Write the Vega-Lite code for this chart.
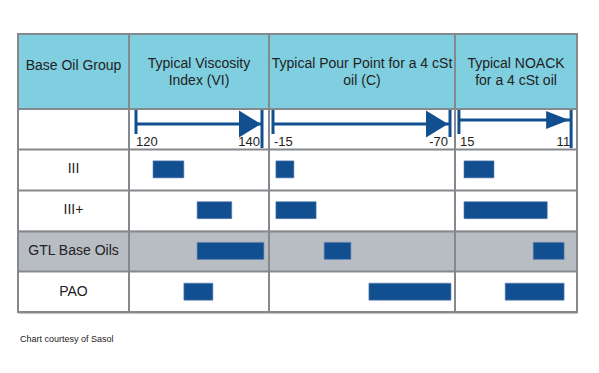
{
  "$schema": "https://vega.github.io/schema/vega-lite/v6.json",
  "padding": {"left": 17, "top": 33, "right": 0, "bottom": 0},
  "background": "white",
  "spacing": 0,
  "bounds": "flush",
  "config": {
    "font": "Liberation Sans",
    "view": {"stroke": null},
    "concat": {"spacing": 0},
    "text": {"font": "Liberation Sans", "color": "#222222"}
  },
  "title": {"text": "Chart courtesy of Sasol", "orient": "bottom", "anchor": "start", "fontSize": 9, "fontWeight": "normal", "color": "#222222", "font": "Liberation Sans", "offset": 22, "dx": 3},
  "datasets": {
    "headers": [
      {"column": "group", "title": ["Base Oil Group"]},
      {"column": "VI", "title": ["Typical Viscosity", "Index (VI)"]},
      {"column": "Pour", "title": ["Typical Pour Point for a 4 cSt", "oil (C)"]},
      {"column": "NOACK", "title": ["Typical NOACK", "for a 4 cSt oil"]}
    ],
    "scales": [
      {"property": "VI", "start": 120, "end": 140},
      {"property": "Pour", "start": -15, "end": -70},
      {"property": "NOACK", "start": 15, "end": 11}
    ],
    "groups": [
      {"group": "III"}, {"group": "III+"}, {"group": "GTL Base Oils"}, {"group": "PAO"}
    ],
    "ranges": [
      {"group": "III", "property": "VI", "low": 122.7, "high": 127.6},
      {"group": "III+", "property": "VI", "low": 129.7, "high": 135.2},
      {"group": "GTL Base Oils", "property": "VI", "low": 129.7, "high": 140.3},
      {"group": "PAO", "property": "VI", "low": 127.6, "high": 132.2},
      {"group": "III", "property": "Pour", "low": -15.9, "high": -21.5},
      {"group": "III+", "property": "Pour", "low": -15.9, "high": -28.4},
      {"group": "GTL Base Oils", "property": "Pour", "low": -30.9, "high": -39.2},
      {"group": "PAO", "property": "Pour", "low": -44.8, "high": -70.3},
      {"group": "III", "property": "NOACK", "low": 14.82, "high": 13.75},
      {"group": "III+", "property": "NOACK", "low": 14.82, "high": 11.85},
      {"group": "GTL Base Oils", "property": "NOACK", "low": 12.35, "high": 11.25},
      {"group": "PAO", "property": "NOACK", "low": 13.35, "high": 11.25}
    ]
  },
  "hconcat": [
    {
      "width": 111, "height": 278,
      "resolve": {"scale": {"y": "independent"}},
      "layer": [
        {"data": {"name": "headers"}, "transform": [{"filter": "datum.column === 'group'"}],
         "mark": {"type": "rect", "color": "#7fcfe0"},
         "encoding": {"y": {"datum": 0, "type": "quantitative", "scale": {"domain": [0, 278], "reverse": true, "nice": false, "zero": false}, "axis": null}, "y2": {"datum": 75}}},
        {"data": {"name": "headers"}, "transform": [{"filter": "datum.column === 'group'"}],
         "mark": {"type": "text", "fontSize": 14, "lineHeight": 17, "baseline": "middle", "dy": -5.5},
         "encoding": {"y": {"datum": 37.5, "type": "quantitative", "scale": {"domain": [0, 278], "reverse": true, "nice": false, "zero": false}, "axis": null}, "text": {"field": "title"}}},
        {"data": {"name": "groups"}, "transform": [{"filter": "datum.group === 'GTL Base Oils'"}],
         "mark": {"type": "rect", "color": "#b8bcc3"},
         "encoding": {"y": {"field": "group", "type": "nominal", "scale": {"domain": ["III", "III+", "GTL Base Oils", "PAO"], "range": [115, 278], "paddingInner": 0, "paddingOuter": 0}, "axis": null}}},
        {"data": {"name": "groups"},
         "mark": {"type": "text", "fontSize": 14, "baseline": "middle"},
         "encoding": {"y": {"field": "group", "type": "nominal", "scale": {"domain": ["III", "III+", "GTL Base Oils", "PAO"], "range": [115, 278], "paddingInner": 0, "paddingOuter": 0},
           "axis": {"title": null, "labels": false, "ticks": false, "domain": false, "grid": true, "gridColor": "#85888c", "gridWidth": 2, "tickBand": "extent", "zindex": 1, "minExtent": 0, "maxExtent": 0}},
           "text": {"field": "group"}}},
        {"data": {"name": "headers"}, "transform": [{"filter": "datum.column === 'group'"}],
         "mark": {"type": "rule", "color": "#85888c", "strokeWidth": 2},
         "encoding": {"y": {"datum": 75, "type": "quantitative", "scale": {"domain": [0, 278], "reverse": true, "nice": false, "zero": false}, "axis": null}}},
        {"data": {"name": "headers"}, "transform": [{"filter": "datum.column === 'group'"}],
         "mark": {"type": "rect", "filled": false, "stroke": "#85888c", "strokeWidth": 2},
         "encoding": {}}
      ]
    },
    {
      "width": 140, "height": 278,
      "resolve": {"scale": {"y": "independent"}},
      "layer": [
        {"data": {"name": "headers"}, "transform": [{"filter": "datum.column === 'VI'"}],
         "mark": {"type": "rect", "color": "#7fcfe0"},
         "encoding": {"y": {"datum": 0, "type": "quantitative", "scale": {"domain": [0, 278], "reverse": true, "nice": false, "zero": false}, "axis": null}, "y2": {"datum": 75}}},
        {"data": {"name": "headers"}, "transform": [{"filter": "datum.column === 'VI'"}],
         "mark": {"type": "text", "fontSize": 14, "lineHeight": 17, "baseline": "middle", "dy": -7.5},
         "encoding": {"y": {"datum": 37.5, "type": "quantitative", "scale": {"domain": [0, 278], "reverse": true, "nice": false, "zero": false}, "axis": null}, "text": {"field": "title"}}},
        {"data": {"name": "groups"}, "transform": [{"filter": "datum.group === 'GTL Base Oils'"}],
         "mark": {"type": "rect", "color": "#b8bcc3"},
         "encoding": {"y": {"field": "group", "type": "nominal", "scale": {"domain": ["III", "III+", "GTL Base Oils", "PAO"], "range": [115, 278], "paddingInner": 0, "paddingOuter": 0}, "axis": null}}},
        {"data": {"name": "ranges"}, "transform": [{"filter": "datum.property === 'VI'"}],
         "mark": {"type": "bar", "color": "#124f90", "size": 17, "stroke": "#5f7fb5", "strokeWidth": 0.6},
         "encoding": {"y": {"field": "group", "type": "nominal", "scale": {"domain": ["III", "III+", "GTL Base Oils", "PAO"], "range": [115, 278], "paddingInner": 0, "paddingOuter": 0},
           "axis": {"title": null, "labels": false, "ticks": false, "domain": false, "grid": true, "gridColor": "#85888c", "gridWidth": 2, "tickBand": "extent", "zindex": 1, "minExtent": 0, "maxExtent": 0}},
           "x": {"field": "low", "type": "quantitative", "scale": {"domain": [118.89, 141.11], "nice": false, "zero": false}, "axis": null}, "x2": {"field": "high"}}},
        {"data": {"name": "scales"}, "transform": [{"filter": "datum.property === 'VI'"}],
         "mark": {"type": "rule", "color": "#124f90", "strokeWidth": 3},
         "encoding": {"x": {"field": "start", "type": "quantitative"}, "x2": {"field": "end"}, "y": {"datum": 90, "type": "quantitative", "scale": {"domain": [0, 278], "reverse": true, "nice": false, "zero": false}, "axis": null}}},
        {"data": {"name": "scales"}, "transform": [{"filter": "datum.property === 'VI'"}],
         "mark": {"type": "rule", "color": "#124f90", "strokeWidth": 3},
         "encoding": {"x": {"field": "start", "type": "quantitative"}, "y": {"datum": 76, "type": "quantitative", "scale": {"domain": [0, 278], "reverse": true, "nice": false, "zero": false}, "axis": null}, "y2": {"datum": 100}}},
        {"data": {"name": "scales"}, "transform": [{"filter": "datum.property === 'VI'"}],
         "mark": {"type": "rule", "color": "#124f90", "strokeWidth": 3},
         "encoding": {"x": {"field": "end", "type": "quantitative"}, "y": {"datum": 76, "type": "quantitative", "scale": {"domain": [0, 278], "reverse": true, "nice": false, "zero": false}, "axis": null}, "y2": {"datum": 114}}},
        {"data": {"name": "scales"}, "transform": [{"filter": "datum.property === 'VI'"}],
         "mark": {"type": "point", "shape": "M-1,-1.23L1,0L-1,1.23Z", "size": 484, "filled": true, "opacity": 1, "color": "#124f90", "strokeWidth": 0, "xOffset": -12},
         "encoding": {"x": {"field": "end", "type": "quantitative"}, "y": {"datum": 90, "type": "quantitative", "scale": {"domain": [0, 278], "reverse": true, "nice": false, "zero": false}, "axis": null}}},
        {"data": {"name": "scales"}, "transform": [{"filter": "datum.property === 'VI'"}],
         "mark": {"type": "text", "fontSize": 13, "align": "left", "baseline": "middle", "dx": 0},
         "encoding": {"x": {"field": "start", "type": "quantitative"}, "text": {"field": "start"}, "y": {"datum": 108, "type": "quantitative", "scale": {"domain": [0, 278], "reverse": true, "nice": false, "zero": false}, "axis": null}}},
        {"data": {"name": "scales"}, "transform": [{"filter": "datum.property === 'VI'"}],
         "mark": {"type": "text", "fontSize": 13, "align": "right", "baseline": "middle", "dx": -2},
         "encoding": {"x": {"field": "end", "type": "quantitative"}, "text": {"field": "end"}, "y": {"datum": 108, "type": "quantitative", "scale": {"domain": [0, 278], "reverse": true, "nice": false, "zero": false}, "axis": null}}},
        {"data": {"name": "headers"}, "transform": [{"filter": "datum.column === 'VI'"}],
         "mark": {"type": "rule", "color": "#85888c", "strokeWidth": 2},
         "encoding": {"y": {"datum": 75, "type": "quantitative", "scale": {"domain": [0, 278], "reverse": true, "nice": false, "zero": false}, "axis": null}}},
        {"data": {"name": "headers"}, "transform": [{"filter": "datum.column === 'VI'"}],
         "mark": {"type": "rect", "filled": false, "stroke": "#85888c", "strokeWidth": 2},
         "encoding": {}}
      ]
    },
    {
      "width": 186, "height": 278,
      "resolve": {"scale": {"y": "independent"}},
      "layer": [
        {"data": {"name": "headers"}, "transform": [{"filter": "datum.column === 'Pour'"}],
         "mark": {"type": "rect", "color": "#7fcfe0"},
         "encoding": {"y": {"datum": 0, "type": "quantitative", "scale": {"domain": [0, 278], "reverse": true, "nice": false, "zero": false}, "axis": null}, "y2": {"datum": 75}}},
        {"data": {"name": "headers"}, "transform": [{"filter": "datum.column === 'Pour'"}],
         "mark": {"type": "text", "fontSize": 14, "lineHeight": 17, "baseline": "middle", "dy": -7.5},
         "encoding": {"y": {"datum": 37.5, "type": "quantitative", "scale": {"domain": [0, 278], "reverse": true, "nice": false, "zero": false}, "axis": null}, "text": {"field": "title"}}},
        {"data": {"name": "groups"}, "transform": [{"filter": "datum.group === 'GTL Base Oils'"}],
         "mark": {"type": "rect", "color": "#b8bcc3"},
         "encoding": {"y": {"field": "group", "type": "nominal", "scale": {"domain": ["III", "III+", "GTL Base Oils", "PAO"], "range": [115, 278], "paddingInner": 0, "paddingOuter": 0}, "axis": null}}},
        {"data": {"name": "ranges"}, "transform": [{"filter": "datum.property === 'Pour'"}],
         "mark": {"type": "bar", "color": "#124f90", "size": 17, "stroke": "#5f7fb5", "strokeWidth": 0.6},
         "encoding": {"y": {"field": "group", "type": "nominal", "scale": {"domain": ["III", "III+", "GTL Base Oils", "PAO"], "range": [115, 278], "paddingInner": 0, "paddingOuter": 0},
           "axis": {"title": null, "labels": false, "ticks": false, "domain": false, "grid": true, "gridColor": "#85888c", "gridWidth": 2, "tickBand": "extent", "zindex": 1, "minExtent": 0, "maxExtent": 0}},
           "x": {"field": "low", "type": "quantitative", "scale": {"domain": [-71.55, -13.76], "reverse": true, "nice": false, "zero": false}, "axis": null}, "x2": {"field": "high"}}},
        {"data": {"name": "scales"}, "transform": [{"filter": "datum.property === 'Pour'"}],
         "mark": {"type": "rule", "color": "#124f90", "strokeWidth": 3},
         "encoding": {"x": {"field": "start", "type": "quantitative"}, "x2": {"field": "end"}, "y": {"datum": 90, "type": "quantitative", "scale": {"domain": [0, 278], "reverse": true, "nice": false, "zero": false}, "axis": null}}},
        {"data": {"name": "scales"}, "transform": [{"filter": "datum.property === 'Pour'"}],
         "mark": {"type": "rule", "color": "#124f90", "strokeWidth": 3},
         "encoding": {"x": {"field": "start", "type": "quantitative"}, "y": {"datum": 76, "type": "quantitative", "scale": {"domain": [0, 278], "reverse": true, "nice": false, "zero": false}, "axis": null}, "y2": {"datum": 100}}},
        {"data": {"name": "scales"}, "transform": [{"filter": "datum.property === 'Pour'"}],
         "mark": {"type": "rule", "color": "#124f90", "strokeWidth": 3},
         "encoding": {"x": {"field": "end", "type": "quantitative"}, "y": {"datum": 76, "type": "quantitative", "scale": {"domain": [0, 278], "reverse": true, "nice": false, "zero": false}, "axis": null}, "y2": {"datum": 103}}},
        {"data": {"name": "scales"}, "transform": [{"filter": "datum.property === 'Pour'"}],
         "mark": {"type": "point", "shape": "M-1,-1.23L1,0L-1,1.23Z", "size": 484, "filled": true, "opacity": 1, "color": "#124f90", "strokeWidth": 0, "xOffset": -13},
         "encoding": {"x": {"field": "end", "type": "quantitative"}, "y": {"datum": 90, "type": "quantitative", "scale": {"domain": [0, 278], "reverse": true, "nice": false, "zero": false}, "axis": null}}},
        {"data": {"name": "scales"}, "transform": [{"filter": "datum.property === 'Pour'"}],
         "mark": {"type": "text", "fontSize": 13, "align": "left", "baseline": "middle", "dx": 1},
         "encoding": {"x": {"field": "start", "type": "quantitative"}, "text": {"field": "start"}, "y": {"datum": 108, "type": "quantitative", "scale": {"domain": [0, 278], "reverse": true, "nice": false, "zero": false}, "axis": null}}},
        {"data": {"name": "scales"}, "transform": [{"filter": "datum.property === 'Pour'"}],
         "mark": {"type": "text", "fontSize": 13, "align": "right", "baseline": "middle", "dx": -2},
         "encoding": {"x": {"field": "end", "type": "quantitative"}, "text": {"field": "end"}, "y": {"datum": 108, "type": "quantitative", "scale": {"domain": [0, 278], "reverse": true, "nice": false, "zero": false}, "axis": null}}},
        {"data": {"name": "headers"}, "transform": [{"filter": "datum.column === 'Pour'"}],
         "mark": {"type": "rule", "color": "#85888c", "strokeWidth": 2},
         "encoding": {"y": {"datum": 75, "type": "quantitative", "scale": {"domain": [0, 278], "reverse": true, "nice": false, "zero": false}, "axis": null}}},
        {"data": {"name": "headers"}, "transform": [{"filter": "datum.column === 'Pour'"}],
         "mark": {"type": "rect", "filled": false, "stroke": "#85888c", "strokeWidth": 2},
         "encoding": {}}
      ]
    },
    {
      "width": 122, "height": 278,
      "resolve": {"scale": {"y": "independent"}},
      "layer": [
        {"data": {"name": "headers"}, "transform": [{"filter": "datum.column === 'NOACK'"}],
         "mark": {"type": "rect", "color": "#7fcfe0"},
         "encoding": {"y": {"datum": 0, "type": "quantitative", "scale": {"domain": [0, 278], "reverse": true, "nice": false, "zero": false}, "axis": null}, "y2": {"datum": 75}}},
        {"data": {"name": "headers"}, "transform": [{"filter": "datum.column === 'NOACK'"}],
         "mark": {"type": "text", "fontSize": 14, "lineHeight": 17, "baseline": "middle", "dy": -7.5},
         "encoding": {"y": {"datum": 37.5, "type": "quantitative", "scale": {"domain": [0, 278], "reverse": true, "nice": false, "zero": false}, "axis": null}, "text": {"field": "title"}}},
        {"data": {"name": "groups"}, "transform": [{"filter": "datum.group === 'GTL Base Oils'"}],
         "mark": {"type": "rect", "color": "#b8bcc3"},
         "encoding": {"y": {"field": "group", "type": "nominal", "scale": {"domain": ["III", "III+", "GTL Base Oils", "PAO"], "range": [115, 278], "paddingInner": 0, "paddingOuter": 0}, "axis": null}}},
        {"data": {"name": "ranges"}, "transform": [{"filter": "datum.property === 'NOACK'"}],
         "mark": {"type": "bar", "color": "#124f90", "size": 17, "stroke": "#5f7fb5", "strokeWidth": 0.6},
         "encoding": {"y": {"field": "group", "type": "nominal", "scale": {"domain": ["III", "III+", "GTL Base Oils", "PAO"], "range": [115, 278], "paddingInner": 0, "paddingOuter": 0},
           "axis": {"title": null, "labels": false, "ticks": false, "domain": false, "grid": true, "gridColor": "#85888c", "gridWidth": 2, "tickBand": "extent", "zindex": 1, "minExtent": 0, "maxExtent": 0}},
           "x": {"field": "low", "type": "quantitative", "scale": {"domain": [10.79, 15.14], "reverse": true, "nice": false, "zero": false}, "axis": null}, "x2": {"field": "high"}}},
        {"data": {"name": "scales"}, "transform": [{"filter": "datum.property === 'NOACK'"}],
         "mark": {"type": "rule", "color": "#124f90", "strokeWidth": 3},
         "encoding": {"x": {"field": "start", "type": "quantitative"}, "x2": {"field": "end"}, "y": {"datum": 86, "type": "quantitative", "scale": {"domain": [0, 278], "reverse": true, "nice": false, "zero": false}, "axis": null}}},
        {"data": {"name": "scales"}, "transform": [{"filter": "datum.property === 'NOACK'"}],
         "mark": {"type": "rule", "color": "#124f90", "strokeWidth": 3},
         "encoding": {"x": {"field": "start", "type": "quantitative"}, "y": {"datum": 76, "type": "quantitative", "scale": {"domain": [0, 278], "reverse": true, "nice": false, "zero": false}, "axis": null}, "y2": {"datum": 100}}},
        {"data": {"name": "scales"}, "transform": [{"filter": "datum.property === 'NOACK'"}],
         "mark": {"type": "rule", "color": "#124f90", "strokeWidth": 3},
         "encoding": {"x": {"field": "end", "type": "quantitative"}, "y": {"datum": 76, "type": "quantitative", "scale": {"domain": [0, 278], "reverse": true, "nice": false, "zero": false}, "axis": null}, "y2": {"datum": 114}}},
        {"data": {"name": "scales"}, "transform": [{"filter": "datum.property === 'NOACK'"}],
         "mark": {"type": "point", "shape": "M-1,-0.78L1,0L-1,0.78Z", "size": 529, "filled": true, "opacity": 1, "color": "#124f90", "strokeWidth": 0, "xOffset": -13.5},
         "encoding": {"x": {"field": "end", "type": "quantitative"}, "y": {"datum": 86, "type": "quantitative", "scale": {"domain": [0, 278], "reverse": true, "nice": false, "zero": false}, "axis": null}}},
        {"data": {"name": "scales"}, "transform": [{"filter": "datum.property === 'NOACK'"}],
         "mark": {"type": "text", "fontSize": 13, "align": "left", "baseline": "middle", "dx": 1},
         "encoding": {"x": {"field": "start", "type": "quantitative"}, "text": {"field": "start"}, "y": {"datum": 108, "type": "quantitative", "scale": {"domain": [0, 278], "reverse": true, "nice": false, "zero": false}, "axis": null}}},
        {"data": {"name": "scales"}, "transform": [{"filter": "datum.property === 'NOACK'"}],
         "mark": {"type": "text", "fontSize": 13, "align": "right", "baseline": "middle", "dx": -1},
         "encoding": {"x": {"field": "end", "type": "quantitative"}, "text": {"field": "end"}, "y": {"datum": 108, "type": "quantitative", "scale": {"domain": [0, 278], "reverse": true, "nice": false, "zero": false}, "axis": null}}},
        {"data": {"name": "headers"}, "transform": [{"filter": "datum.column === 'NOACK'"}],
         "mark": {"type": "rule", "color": "#85888c", "strokeWidth": 2},
         "encoding": {"y": {"datum": 75, "type": "quantitative", "scale": {"domain": [0, 278], "reverse": true, "nice": false, "zero": false}, "axis": null}}},
        {"data": {"name": "headers"}, "transform": [{"filter": "datum.column === 'NOACK'"}],
         "mark": {"type": "rect", "filled": false, "stroke": "#85888c", "strokeWidth": 2},
         "encoding": {}}
      ]
    }
  ]
}
